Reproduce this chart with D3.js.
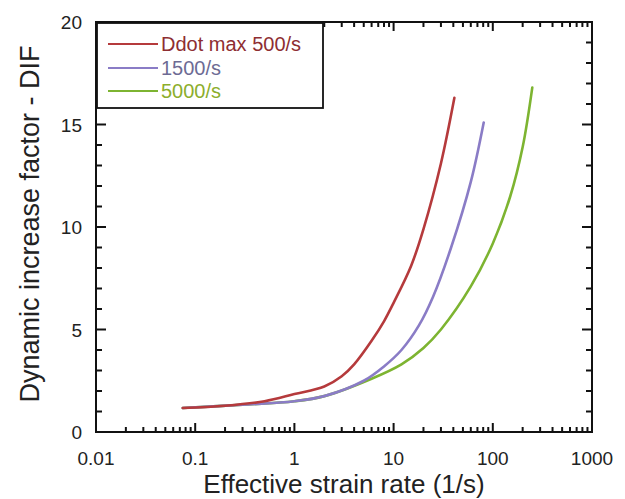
<!DOCTYPE html>
<html>
<head>
<meta charset="utf-8">
<script src="https://cdn.jsdelivr.net/npm/d3@7"></script>
<style>
  body { margin: 0; background: #fff; }
  svg { font-family: "Liberation Sans", Arial, sans-serif; }
</style>
</head>
<body>
<div id="chart"></div>
<script>
// data
const seriesNames = ["Ddot max 500/s", "1500/s", "5000/s"];
const xRed = [0.075, 0.2, 0.5, 1, 2, 3, 4, 6, 8, 10, 15, 20, 30, 41];
const yRed = [1.17, 1.28, 1.5, 1.85, 2.22, 2.72, 3.3, 4.45, 5.4, 6.3, 8.1, 9.9, 13.1, 16.3];
const xPurple = [0.075, 0.3, 1, 2, 5, 8, 12, 18, 25, 38, 60, 81];
const yPurple = [1.17, 1.33, 1.5, 1.75, 2.5, 3.2, 4.0, 5.2, 6.6, 9.0, 12.2, 15.1];
const xGreen = [0.075, 0.3, 1, 2, 6, 12, 20, 30, 60, 100, 150, 200, 250];
const yGreen = [1.17, 1.33, 1.5, 1.75, 2.6, 3.3, 4.1, 5.0, 7.1, 9.2, 11.5, 13.9, 16.8];
const xTickLabels = ["0.01", "0.1", "1", "10", "100", "1000"];
const yTickLabels = [0, 5, 10, 15, 20];

const W = 625, H = 499;
const margin = {left: 96, right: 592, top: 22, bottom: 432};

const svg = d3.select("#chart").append("svg")
    .attr("width", W).attr("height", H);

const x = d3.scaleLog().domain([0.01, 1000]).range([margin.left, margin.right]);
const y = d3.scaleLinear().domain([0, 20]).range([margin.bottom, margin.top]);

// log minor ticks 2..9 in each decade
let minorX = [];
for (let e = -2; e < 3; e++) {
    for (let m = 2; m <= 9; m++) minorX.push(m * Math.pow(10, e));
}
let majorX = xTickLabels.map(Number);
let minorY = d3.range(0, 21, 1).filter(v => v % 5 !== 0);

// inward ticks on all four sides
const ticks = svg.append("g").attr("stroke", "#111").attr("stroke-width", 2);
function xTicks(vals, len) {
    for (let edge of [[margin.bottom, -1], [margin.top, 1]]) {
        ticks.selectAll(null).data(vals).enter().append("line")
            .attr("x1", d => x(d)).attr("x2", d => x(d))
            .attr("y1", edge[0]).attr("y2", edge[0] + edge[1] * len);
    }
}
function yTicks(vals, len) {
    for (let edge of [[margin.left, 1], [margin.right, -1]]) {
        ticks.selectAll(null).data(vals).enter().append("line")
            .attr("y1", d => y(d)).attr("y2", d => y(d))
            .attr("x1", edge[0]).attr("x2", edge[0] + edge[1] * len);
    }
}
xTicks(minorX, 5);
xTicks(majorX, 9);
yTicks(minorY, 6);
yTicks(yTickLabels, 10);

// tick labels
svg.append("g").selectAll("text").data(majorX).enter().append("text")
    .attr("x", d => x(d)).attr("y", margin.bottom + 33)
    .attr("text-anchor", "middle")
    .attr("fill", "#222").style("font-size", "19px")
    .text((d, i) => xTickLabels[i]);

svg.append("g").selectAll("text").data(yTickLabels).enter().append("text")
    .attr("x", margin.left - 14).attr("y", d => y(d) + 7)
    .attr("text-anchor", "end")
    .attr("fill", "#222").style("font-size", "19px")
    .text(d => d);

// frame
svg.append("rect")
    .attr("x", margin.left).attr("y", margin.top)
    .attr("width", margin.right - margin.left).attr("height", margin.bottom - margin.top)
    .attr("fill", "none").attr("stroke", "#111").attr("stroke-width", 2);

const series = [
    {name: seriesNames[0], xs: xRed, ys: yRed, color: "#b53a3c", text: "#8e2e32"},
    {name: seriesNames[1], xs: xPurple, ys: yPurple, color: "#8a7cc6", text: "#6d6b94"},
    {name: seriesNames[2], xs: xGreen, ys: yGreen, color: "#7db431", text: "#8cae2c"}
];

const line = d3.line()
    .x(d => x(d[0]))
    .y(d => y(d[1]))
    .curve(d3.curveCatmullRom.alpha(0.5));

// draw green first so red sits on top like the original
for (let s of series.slice().reverse()) {
    svg.append("path")
        .datum(s.xs.map((v, i) => [v, s.ys[i]]))
        .attr("d", line)
        .attr("fill", "none")
        .attr("stroke", s.color)
        .attr("stroke-width", 2.6)
        .attr("stroke-linecap", "round");
}

// legend
const legend = svg.append("g");
legend.append("rect")
    .attr("x", margin.left + 1).attr("y", margin.top + 1)
    .attr("width", 226).attr("height", 85)
    .attr("fill", "#fff").attr("stroke", "#111").attr("stroke-width", 1.8);
let legendY = [44, 68, 91];
series.forEach((s, i) => {
    legend.append("line")
        .attr("x1", 108).attr("x2", 158)
        .attr("y1", legendY[i]).attr("y2", legendY[i])
        .attr("stroke", s.color).attr("stroke-width", 2.2);
    legend.append("text")
        .attr("x", 161).attr("y", legendY[i] + 7)
        .attr("fill", s.text)
        .style("font-size", "20px")
        .text(s.name);
});

// axis titles
svg.append("text")
    .attr("x", 344).attr("y", 493)
    .attr("text-anchor", "middle")
    .attr("fill", "#222")
    .style("font-size", "26px")
    .text("Effective strain rate (1/s)");

svg.append("text")
    .attr("transform", `translate(39,${224}) rotate(-90)`)
    .attr("text-anchor", "middle")
    .attr("fill", "#222")
    .style("font-size", "27px")
    .text("Dynamic increase factor - DIF");
</script>
</body>
</html>
